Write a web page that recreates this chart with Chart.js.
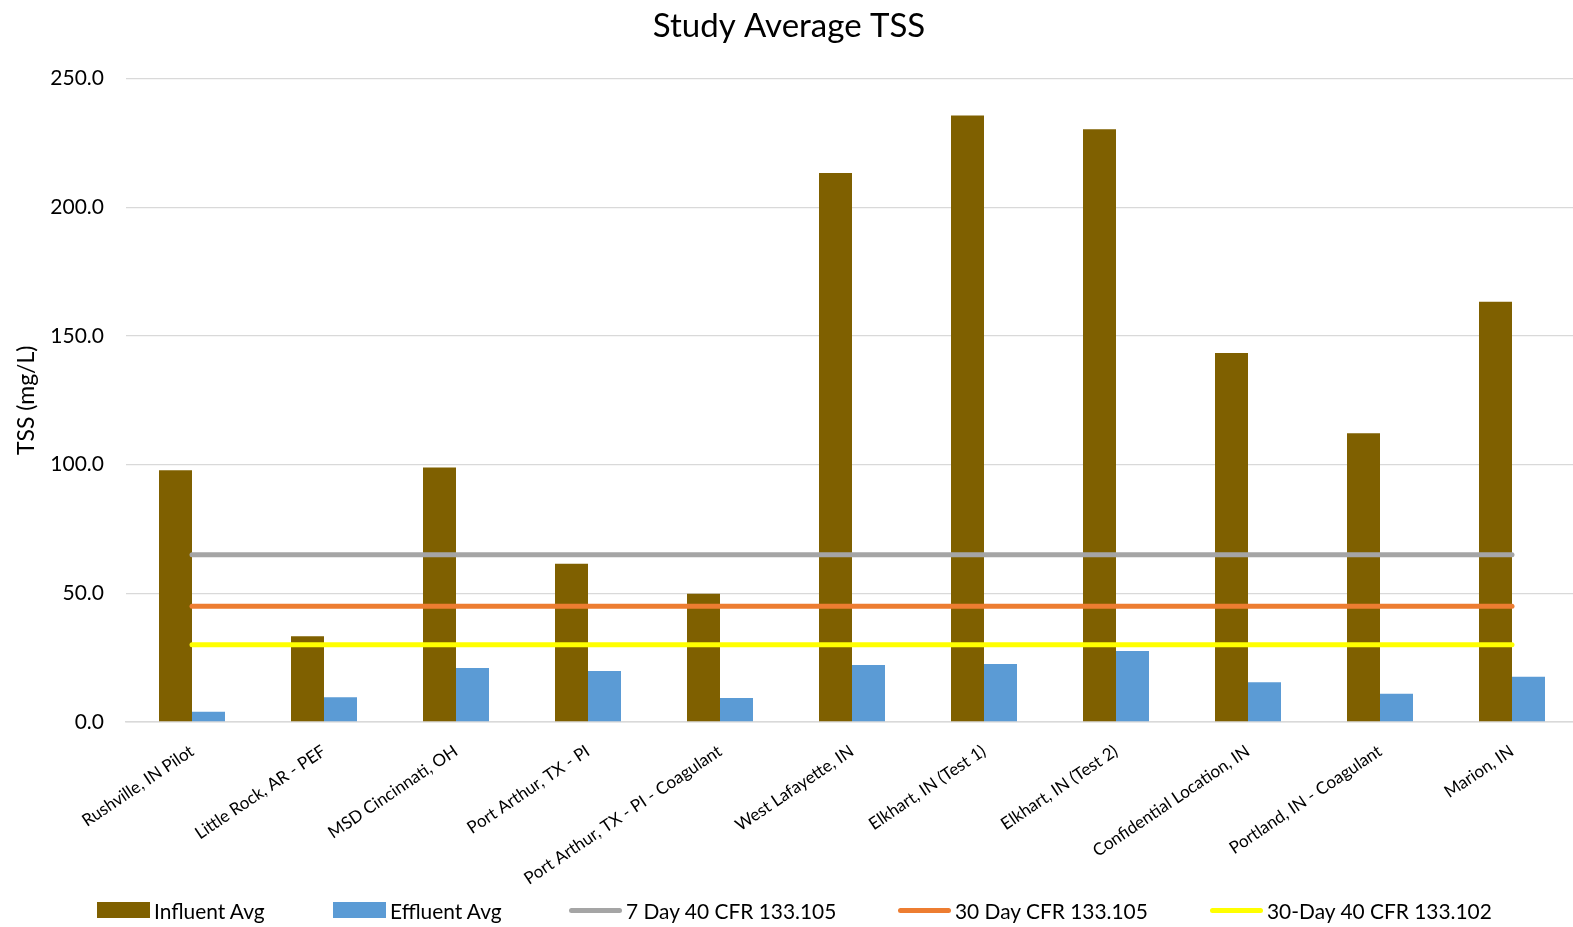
<!DOCTYPE html>
<html>
<head>
<meta charset="utf-8">
<script src="https://cdn.jsdelivr.net/npm/chart.js@4.4.1/dist/chart.umd.min.js"></script>
<style>
  html, body { margin: 0; padding: 0; background: #fff; overflow: hidden; }
  #wrap { position: absolute; left: 0; top: 0; width: 1578px; height: 927px; }
  #legend { position: absolute; left: 0; top: 896px; width: 1573px; height: 28px;
            font-family: Lato, "Open Sans", sans-serif; font-size: 22px; color: #000; }
  .item { position: absolute; top: 0; height: 28px; display: flex; align-items: center; white-space: nowrap; }
  .sw { width: 53px; margin-right: 4px; }
  .sw.box { height: 16px; }
  .sw.line { height: 5px; border-radius: 3px; }
  .lbl { display: inline-block; transform: scaleX(0.95); transform-origin: left center; }
</style>
</head>
<body>
<div id="wrap"><canvas id="c"></canvas></div>
<div id="legend"></div>
<script>
// Study sites along the category axis
const sites = [
  'Rushville, IN Pilot', 'Little Rock, AR - PEF', 'MSD Cincinnati, OH', 'Port Arthur, TX - PI',
  'Port Arthur, TX - PI - Coagulant', 'West Lafayette, IN', 'Elkhart, IN (Test 1)',
  'Elkhart, IN (Test 2)', 'Confidential Location, IN', 'Portland, IN - Coagulant', 'Marion, IN'
];
// Average TSS (mg/L)
const influentAvg = [97.8, 33.3, 98.9, 61.5, 49.8, 213.3, 235.7, 230.3, 143.4, 112.2, 163.3];
const effluentAvg = [4.0, 9.6, 21.0, 19.8, 9.3, 22.1, 22.5, 27.6, 15.4, 11.0, 17.6];
// Regulatory limits (mg/L)
const limit7Day105 = [65, 65, 65, 65, 65, 65, 65, 65, 65, 65, 65];
const limit30Day105 = [45, 45, 45, 45, 45, 45, 45, 45, 45, 45, 45];
const limit30Day102 = [30, 30, 30, 30, 30, 30, 30, 30, 30, 30, 30];
const yTicks = [0, 50, 100, 150, 200, 250];

const FONT = 'Lato, "Open Sans", sans-serif';

const limitLine = (label, data, color) => ({
  type: 'line', label, data, borderColor: color, backgroundColor: color,
  borderWidth: 5, borderCapStyle: 'round', pointRadius: 0, pointHoverRadius: 0,
  tension: 0, fill: false, order: 0
});

const datasets = [
  { type: 'bar', label: 'Influent Avg', data: influentAvg, backgroundColor: '#7F6000', order: 1 },
  { type: 'bar', label: 'Effluent Avg', data: effluentAvg, backgroundColor: '#5B9BD5', order: 1 },
  limitLine('7 Day 40 CFR 133.105', limit7Day105, '#A5A5A5'),
  limitLine('30 Day CFR 133.105', limit30Day105, '#ED7D31'),
  limitLine('30-Day 40 CFR 133.102', limit30Day102, '#FFFF00')
];

const canvas = document.getElementById('c');
canvas.width = 1578; canvas.height = 927;

new Chart(canvas, {
  data: { labels: sites, datasets },
  options: {
    responsive: false,
    animation: false,
    devicePixelRatio: 1,
    layout: { padding: { left: 0, right: 0, top: 0, bottom: 0 } },
    datasets: { bar: { categoryPercentage: 0.5, barPercentage: 1.0 } },
    plugins: {
      legend: { display: false },
      tooltip: { enabled: false },
      title: {
        display: true, text: 'Study Average TSS', color: '#000',
        font: { family: FONT, size: 33, weight: 'normal' },
        padding: { top: 7, bottom: 32 }
      }
    },
    scales: {
      x: {
        grid: { display: false },
        border: { display: true, color: '#D9D9D9', width: 1.5 },
        ticks: {
          color: '#000', font: { family: FONT, size: 17 },
          minRotation: 34, maxRotation: 34, padding: 11, autoSkip: false
        },
        afterFit: (s) => { s.height = 927 - 722; }
      },
      y: {
        min: 0, max: 250,
        afterBuildTicks: (s) => { s.ticks = yTicks.map(v => ({ value: v })); },
        grid: { color: '#D9D9D9', lineWidth: 1.3, drawTicks: false },
        border: { display: false },
        ticks: {
          color: '#000', font: { family: FONT, size: 21 }, padding: 22,
          callback: (v) => Number(v).toFixed(1)
        },
        title: {
          display: true, text: 'TSS (mg/L)', color: '#000',
          font: { family: FONT, size: 23 }, padding: { top: 13, bottom: 0 }
        },
        afterFit: (s) => { s.width = 126; }
      }
    }
  }
});

// Legend row beneath the chart
const legendLeft = [97, 333, 569, 898, 1210];
const legend = document.getElementById('legend');
datasets.forEach((ds, i) => {
  const item = document.createElement('div');
  item.className = 'item';
  item.style.left = legendLeft[i] + 'px';
  const sw = document.createElement('span');
  sw.className = 'sw ' + (ds.type === 'bar' ? 'box' : 'line');
  sw.style.background = ds.backgroundColor;
  const lbl = document.createElement('span');
  lbl.className = 'lbl';
  lbl.textContent = ds.label;
  item.appendChild(sw); item.appendChild(lbl);
  legend.appendChild(item);
});
</script>
</body>
</html>
